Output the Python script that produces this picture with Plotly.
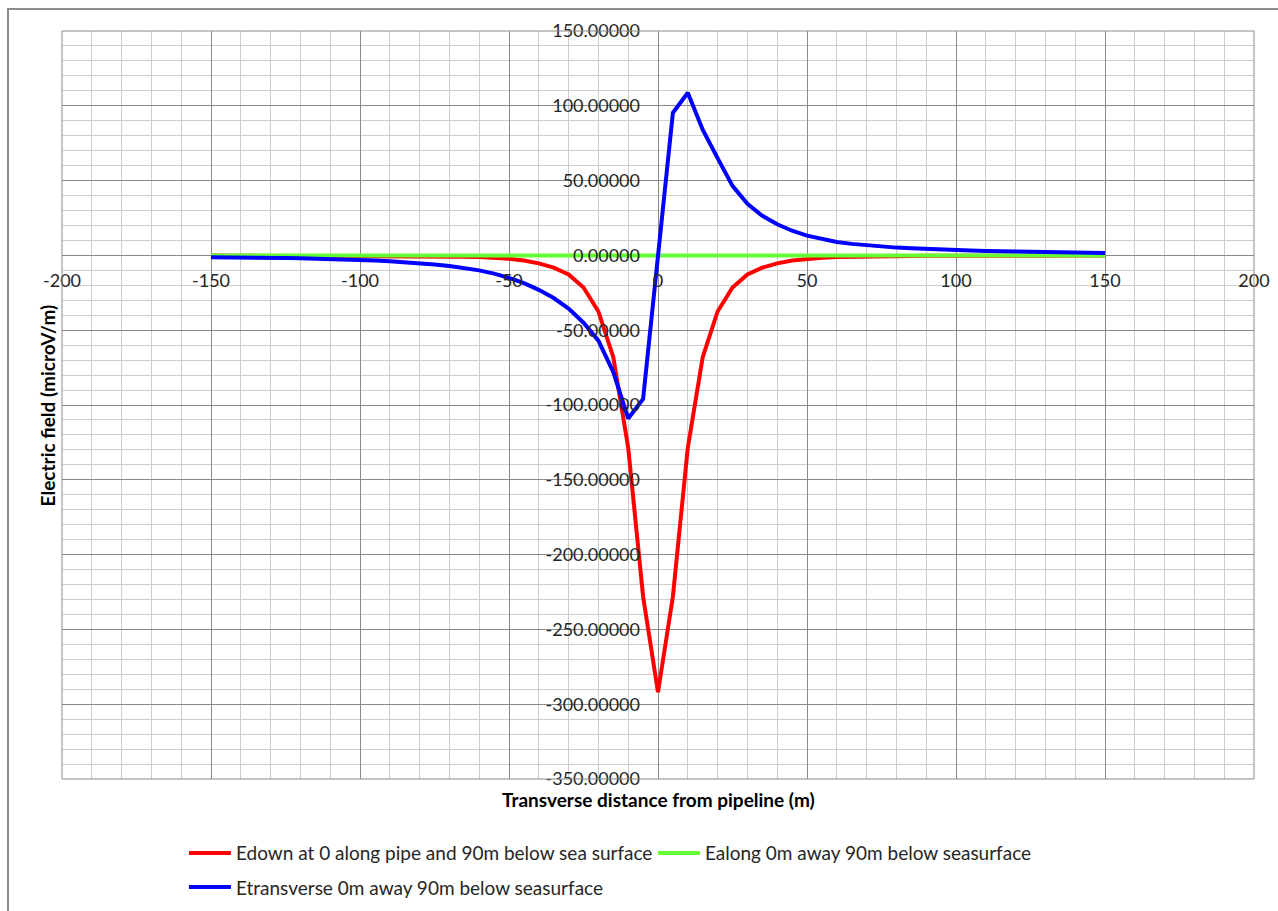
import plotly.graph_objects as go

# Transverse distance from the pipeline (m)
distance = [-150, -145, -140, -135, -130, -125, -120, -115, -110, -105,
            -100, -95, -90, -85, -80, -75, -70, -65, -60, -55,
            -50, -45, -40, -35, -30, -25, -20, -15, -10, -5,
            0,
            5, 10, 15, 20, 25, 30, 35, 40, 45, 50,
            55, 60, 65, 70, 75, 80, 85, 90, 95, 100,
            105, 110, 115, 120, 125, 130, 135, 140, 145, 150]

# Electric field components (microV/m)
e_down = [-0.05, -0.06, -0.06, -0.07, -0.08, -0.09, -0.10, -0.12, -0.14, -0.16,
          -0.19, -0.22, -0.27, -0.33, -0.41, -0.52, -0.66, -0.86, -1.15, -1.6,
          -2.3, -3.4, -5.3, -8.2, -12.8, -21.5, -37.5, -68.0, -128.5, -228.0,
          -292.0,
          -228.0, -128.5, -68.0, -37.5, -21.5, -12.8, -8.2, -5.3, -3.4, -2.3,
          -1.6, -1.15, -0.86, -0.66, -0.52, -0.41, -0.33, -0.27, -0.22, -0.19,
          -0.16, -0.14, -0.12, -0.10, -0.09, -0.08, -0.07, -0.06, -0.06, -0.05]

e_along = [0.0, 0.0, 0.0, 0.0, 0.0, 0.0, 0.0, 0.0, 0.0, 0.0,
           0.0, 0.0, 0.0, 0.0, 0.0, 0.0, 0.0, 0.0, 0.0, 0.0,
           0.0, 0.0, 0.0, 0.0, 0.0, 0.0, 0.0, 0.0, 0.0, 0.0,
           0.0,
           0.0, 0.0, 0.0, 0.0, 0.0, 0.0, 0.0, 0.0, 0.0, 0.0,
           0.0, 0.0, 0.0, 0.0, 0.0, 0.0, 0.0, 0.0, 0.0, 0.0,
           0.0, 0.0, 0.0, 0.0, 0.0, 0.0, 0.0, 0.0, 0.0, 0.0]

e_transverse = [-1.2, -1.2, -1.3, -1.5, -1.7, -1.8, -1.9, -2.1, -2.4, -2.7,
                -3.0, -3.4, -3.9, -4.5, -5.2, -6.1, -7.1, -8.4, -10.0, -12.2,
                -15.0, -18.6, -23.0, -28.5, -35.5, -45.0, -57.0, -78.0, -109.0, -96.0,
                0.0,
                95.3, 108.7, 84.0, 65.0, 46.5, 34.5, 26.5, 20.8, 16.5, 13.2,
                10.8, 9.0, 7.7, 6.7, 5.9, 5.2, 4.7, 4.2, 3.8, 3.5,
                3.2, 2.9, 2.7, 2.5, 2.3, 2.1, 2.0, 1.8, 1.7, 1.6]

names = ["Edown at 0 along pipe and 90m below sea surface",
         "Ealong 0m away 90m below seasurface",
         "Etransverse 0m away 90m below seasurface"]
colors = ["#FF0000", "#66FF33", "#0000FF"]

# axis ticks and their labels
x_ticks = [-200, -150, -100, -50, 0, 50, 100, 150, 200]
x_tick_labels = ["-200", "-150", "-100", "-50", "0", "50", "100", "150", "200"]
y_ticks = [-350, -300, -250, -200, -150, -100, -50, 0, 50, 100, 150]
y_tick_labels = ["-350.00000", "-300.00000", "-250.00000", "-200.00000",
                 "-150.00000", "-100.00000", "-50.00000", "0.00000",
                 "50.00000", "100.00000", "150.00000"]

X_RANGE = [-200, 200]
Y_RANGE = [-350, 150]

FONT = "Lato"
TEXT = "#262626"
MAJOR = "#8A8A8A"
MINOR = "#CDCDCD"

fig = go.Figure()
series = [e_down, e_along, e_transverse]
legends = ["legend", "legend", "legend2"]
for name, vals, col, lg in zip(names, series, colors, legends):
    fig.add_trace(go.Scatter(
        x=distance, y=vals, mode="lines", name=name,
        line=dict(color=col, width=4), legend=lg,
    ))

# axes cross at the origin
y_zero_pos = (0 - Y_RANGE[0]) / (Y_RANGE[1] - Y_RANGE[0])
x_zero_pos = (0 - X_RANGE[0]) / (X_RANGE[1] - X_RANGE[0])

legend_style = dict(
    orientation="h", xanchor="left", yanchor="top",
    font=dict(family=FONT, size=19, color=TEXT),
    bgcolor="rgba(0,0,0,0)", itemwidth=42,
)

fig.update_layout(
    width=1278, height=911,
    margin=dict(l=62, r=24, t=31, b=132, autoexpand=False),
    paper_bgcolor="white", plot_bgcolor="white",
    font=dict(family=FONT, size=18, color=TEXT),
    xaxis=dict(
        range=X_RANGE, tickvals=x_ticks, ticktext=x_tick_labels,
        anchor="free", position=y_zero_pos,
        showgrid=True, gridcolor=MAJOR, gridwidth=1,
        minor=dict(dtick=10, showgrid=True, gridcolor=MINOR, gridwidth=1),
        zeroline=False, showline=False, ticks="",
        ticklabelstandoff=13,
        tickfont=dict(family=FONT, size=18, color=TEXT),
    ),
    yaxis=dict(
        range=Y_RANGE, tickvals=y_ticks, ticktext=y_tick_labels,
        anchor="free", position=x_zero_pos,
        showgrid=True, gridcolor=MAJOR, gridwidth=1,
        minor=dict(dtick=10, showgrid=True, gridcolor=MINOR, gridwidth=1),
        zeroline=False, showline=False, ticks="",
        ticklabelstandoff=18,
        tickfont=dict(family=FONT, size=18, color=TEXT),
    ),
    legend=dict(x=0.1023, y=-0.0737, entrywidth=412, entrywidthmode="pixels",
                **legend_style),
    legend2=dict(x=0.1023, y=-0.1193, **legend_style),
    showlegend=True,
)

# plot area outline and outer chart frame
fig.add_shape(type="rect", xref="paper", yref="paper", x0=0, y0=0, x1=1, y1=1,
              line=dict(color=MAJOR, width=1), layer="above")
fig.add_shape(type="rect", xref="paper", yref="paper",
              x0=-0.0453, y0=-0.25, x1=1.05, y1=1.0294,
              line=dict(color="#8C8C8C", width=2), layer="below")

# axis titles
fig.add_annotation(text="<b>Transverse distance from pipeline (m)</b>",
                   xref="paper", yref="paper", x=0.5, y=-0.0094,
                   xanchor="center", yanchor="top", showarrow=False,
                   font=dict(family=FONT, size=19, color="#000000"))
fig.add_annotation(text="<b>Electric field (microV/m)</b>",
                   xref="paper", yref="paper", x=-0.0009, y=0.5,
                   xanchor="right", yanchor="middle", showarrow=False, textangle=-90,
                   font=dict(family=FONT, size=19, color="#000000"))

fig.write_html("out.html")
